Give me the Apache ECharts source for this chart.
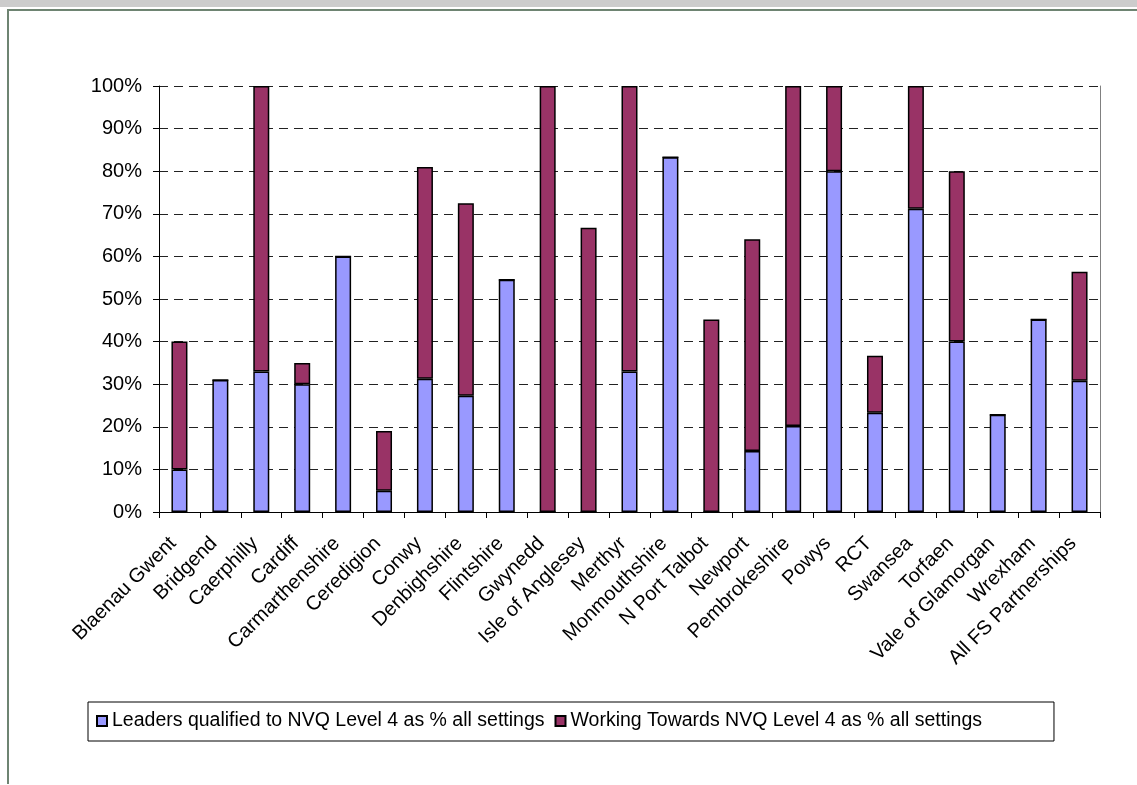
<!DOCTYPE html>
<html>
<head>
<meta charset="utf-8">
<script src="https://cdn.jsdelivr.net/npm/echarts@6/dist/echarts.min.js"></script>
<style>
html,body{margin:0;padding:0;background:#fff;}
#chart{width:1137px;height:785px;}
</style>
</head>
<body>
<div id="chart"></div>
<script>
const categories = ["Blaenau Gwent","Bridgend","Caerphilly","Cardiff","Carmarthenshire","Ceredigion","Conwy","Denbighshire","Flintshire","Gwynedd","Isle of Anglesey","Merthyr","Monmouthshire","N Port Talbot","Newport","Pembrokeshire","Powys","RCT","Swansea","Torfaen","Vale of Glamorgan","Wrexham","All FS Partnerships"];
const qualified = [10, 31, 33, 30, 60, 5, 31.3, 27.3, 54.5, 0, 0, 33, 83.3, 0, 14.3, 20.2, 80, 23.3, 71.2, 40, 22.8, 45.2, 30.8];
const workingTowards = [30, 0, 67, 5, 0, 14, 49.7, 45.2, 0, 100, 66.7, 67, 0, 45.2, 49.7, 79.8, 20, 13.4, 28.8, 40, 0, 0, 25.6];
const yTicks = [0, 10, 20, 30, 40, 50, 60, 70, 80, 90, 100];
const seriesNames = ["Leaders qualified to NVQ Level 4 as % all settings", "Working Towards NVQ Level 4 as % all settings"];

const FONT = "'Liberation Sans', Arial, sans-serif";
const chart = echarts.init(document.getElementById('chart'), null, {renderer: 'canvas'});
chart.setOption({
  backgroundColor: '#ffffff',
  animation: false,
  textStyle: {fontFamily: FONT, color: '#000'},
  graphic: [
    {type: 'rect', shape: {x: 0, y: 0, width: 1137, height: 7}, style: {fill: '#cccccc'}, silent: true},
    {type: 'rect', shape: {x: 7, y: 9, width: 1130, height: 2}, style: {fill: '#6e8472'}, silent: true},
    {type: 'rect', shape: {x: 7, y: 9, width: 2, height: 775}, style: {fill: '#6e8472'}, silent: true}
  ],
  grid: {left: 159, right: 37, top: 86, bottom: 273, containLabel: false},
  legend: {
    left: 88, top: 702,
    itemWidth: 10, itemHeight: 10, itemGap: 10,
    padding: [9, 72, 10, 8],
    borderColor: '#000', borderWidth: 1,
    icon: 'rect',
    textStyle: {fontFamily: FONT, fontSize: 19.5, color: '#000'},
    data: seriesNames
  },
  xAxis: {
    type: 'category',
    data: categories,
    boundaryGap: true,
    axisLine: {lineStyle: {color: '#000', width: 1}},
    axisTick: {show: true, length: 6, inside: false, lineStyle: {color: '#000'}},
    axisLabel: {rotate: 45, interval: 0, margin: 22, padding: [0, 9, 0, 0], fontSize: 20, color: '#000', fontFamily: FONT},
    splitLine: {show: false}
  },
  yAxis: [{
    type: 'value',
    min: yTicks[0], max: yTicks[yTicks.length - 1], interval: 10,
    axisLine: {show: true, lineStyle: {color: '#000', width: 1}},
    axisTick: {show: true, length: 6, inside: false, lineStyle: {color: '#000'}},
    axisLabel: {formatter: '{value}%', fontSize: 20, color: '#000', margin: 17, fontFamily: FONT},
    splitLine: {show: true, lineStyle: {color: '#222', type: [9, 6], width: 1}}
  }, {
    type: 'value', position: 'right',
    min: 0, max: 100, interval: 10,
    axisLine: {show: true, lineStyle: {color: '#808080', width: 1}},
    axisTick: {show: false}, axisLabel: {show: false}, splitLine: {show: false}
  }],
  series: [{
    name: seriesNames[0], type: 'bar', stack: 'a', barWidth: 16,
    data: qualified,
    itemStyle: {color: '#9999ff', borderColor: '#000', borderWidth: 1.5}
  }, {
    name: seriesNames[1], type: 'bar', stack: 'a', barWidth: 16,
    data: workingTowards,
    itemStyle: {color: '#993366', borderColor: '#000', borderWidth: 1.5}
  }]
});
</script>
</body>
</html>
